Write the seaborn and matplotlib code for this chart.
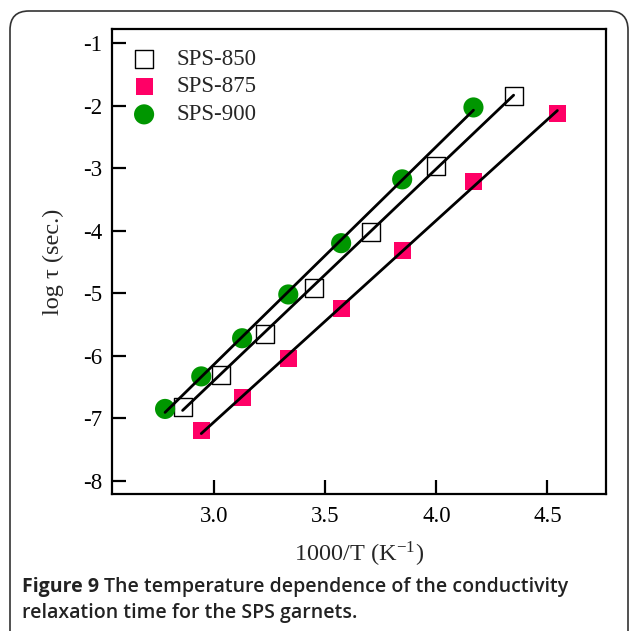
import numpy as np
import pandas as pd
import matplotlib
matplotlib.use("Agg")
import matplotlib.pyplot as plt
import seaborn as sns
from matplotlib.patches import FancyBboxPatch

# ---- data ----
x_850 = [2.857, 3.030, 3.226, 3.448, 3.704, 4.000, 4.348]
y_850 = [-6.82, -6.30, -5.66, -4.92, -4.02, -2.96, -1.84]
x_875 = [2.941, 3.125, 3.333, 3.571, 3.846, 4.167, 4.545]
y_875 = [-7.19, -6.67, -6.04, -5.25, -4.31, -3.22, -2.12]
x_900 = [2.778, 2.941, 3.125, 3.333, 3.571, 3.846, 4.167]
y_900 = [-6.85, -6.33, -5.72, -5.02, -4.20, -3.18, -2.03]
labels = ["SPS-850", "SPS-875", "SPS-900"]
x_ticks = [3.0, 3.5, 4.0, 4.5]
y_ticks = [-1, -2, -3, -4, -5, -6, -7, -8]

sns.set_theme(style="white")
plt.rcParams['font.family'] = ['Liberation Serif', 'DejaVu Serif']
plt.rcParams['mathtext.fontset'] = 'stix'

W, H = 629, 631
fig = plt.figure(figsize=(W / 100, H / 100), dpi=100)
fig.patch.set_facecolor("white")

# rounded border (open at bottom)
box = FancyBboxPatch((10 / W, -0.1), 618 / W, (H - 11) / H + 0.1,
                     boxstyle="round,pad=0,rounding_size=0.03",
                     transform=fig.transFigure, facecolor="none",
                     edgecolor="#333333", linewidth=1.2)
fig.patches.append(box)

ax = fig.add_axes([112 / W, 1 - 494 / H, (606 - 112) / W, (494 - 29) / H])

df850 = pd.DataFrame({"x": x_850, "y": y_850})
df875 = pd.DataFrame({"x": x_875, "y": y_875})
df900 = pd.DataFrame({"x": x_900, "y": y_900})

sns.scatterplot(data=df850, x="x", y="y", ax=ax, marker="s", s=150,
                facecolor="white", edgecolor="black", linewidth=1.0,
                label=labels[0], zorder=2)
sns.scatterplot(data=df875, x="x", y="y", ax=ax, marker="s", s=150,
                color="#FF0066", edgecolor="none", linewidth=0,
                label=labels[1], zorder=2)
sns.scatterplot(data=df900, x="x", y="y", ax=ax, marker="o", s=210,
                color="#009600", edgecolor="none", linewidth=0,
                label=labels[2], zorder=2)

for df in (df850, df875, df900):
    sns.regplot(data=df, x="x", y="y", ax=ax, scatter=False, ci=None,
                truncate=True, color="black", line_kws={"lw": 2, "zorder": 3})

ax.set_xlim(2.539, 4.764)
ax.set_ylim(-8.21, -0.776)
ax.set_xticks(x_ticks)
ax.set_xticklabels(["3.0", "3.5", "4.0", "4.5"])
ax.set_yticks(y_ticks)
ax.set_yticklabels([str(v) for v in y_ticks])

for s in ax.spines.values():
    s.set_linewidth(1.6)
    s.set_color("black")
ax.tick_params(axis="both", direction="in", length=10, width=1.6,
               labelsize=16.5, colors="black", top=False, right=False,
               left=True, bottom=True)
ax.tick_params(axis="x", pad=9)
ax.tick_params(axis="y", pad=7)

ax.set_xlabel(r"1000/T (K$^{\mathregular{-1}}$)", fontsize=17.5, labelpad=9)
ax.set_ylabel("log τ (sec.)", fontsize=17.5, labelpad=14)
ax.grid(False)

leg = ax.legend(loc="upper left", bbox_to_anchor=(0.0, 0.995), frameon=False,
                fontsize=16.5, handletextpad=0.75, labelspacing=0.3,
                borderaxespad=0.45, handlelength=1.3, borderpad=0.3)

cap_size = 14
y1 = 1 - 587 / H
y2 = 1 - 613 / H
t1 = fig.text(22 / W, y1, "Figure 9", fontsize=cap_size, family="Open Sans",
              fontweight="bold", va="center", ha="left", color="#222222")
fig.canvas.draw()
bb = t1.get_window_extent(renderer=fig.canvas.get_renderer())
fig.text(bb.x1 / W + 5 / W, y1, "The temperature dependence of the conductivity",
         fontsize=cap_size, family="Open Sans", fontweight="semibold",
         va="center", ha="left", color="#222222")
fig.text(22 / W, y2, "relaxation time for the SPS garnets.",
         fontsize=cap_size, family="Open Sans", fontweight="semibold",
         va="center", ha="left", color="#222222")

fig.savefig("out.png", dpi=100)
